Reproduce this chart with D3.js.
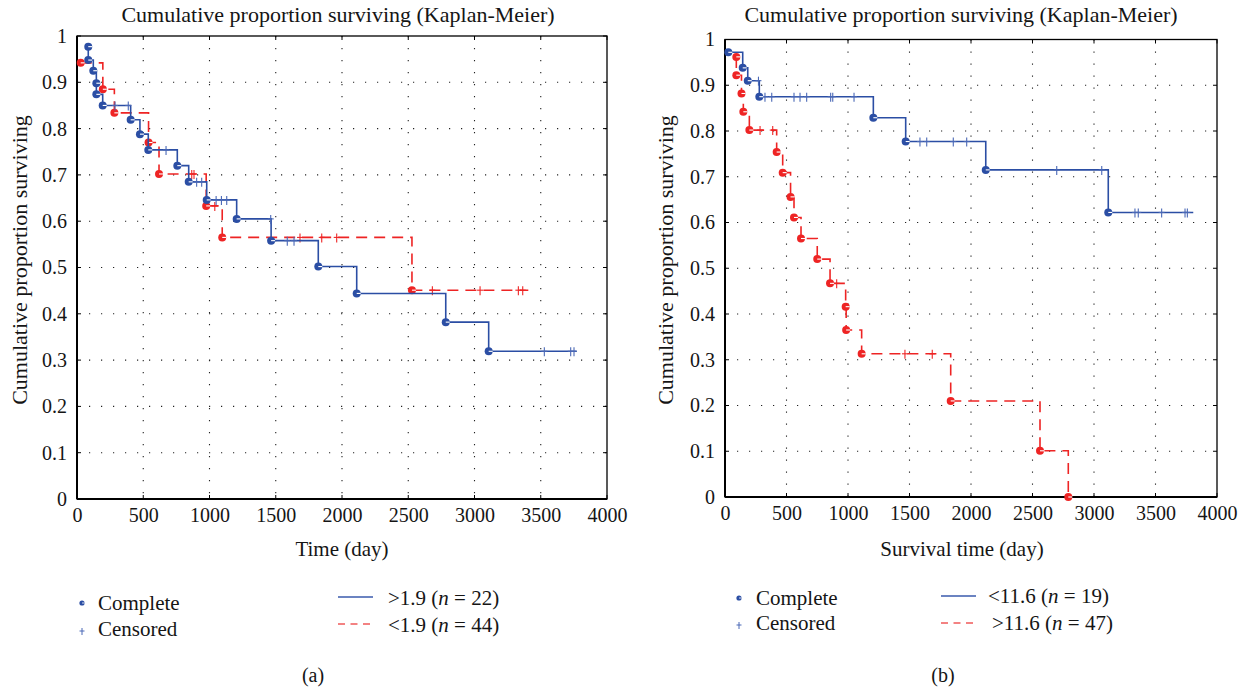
<!DOCTYPE html>
<html><head><meta charset="utf-8">
<script src="https://cdn.jsdelivr.net/npm/d3@7"></script>
<style>
body{margin:0;background:#fff}
svg{display:block}
svg text{font-family:"Liberation Serif",Tinos,"Times New Roman",Times,"DejaVu Serif",serif !important;fill:#151515}
</style>
</head><body>
<svg id="c" width="1248" height="689"></svg>
<script>
// ---------- tick labels ----------
const xTicks = [0, 500, 1000, 1500, 2000, 2500, 3000, 3500, 4000];
const yTicks = [0, 0.1, 0.2, 0.3, 0.4, 0.5, 0.6, 0.7, 0.8, 0.9, 1];

// ---------- panel (a) ----------
const aBlueT = [85, 85, 123, 146, 146, 194, 405, 475, 538, 757, 843, 979, 1205, 1465, 1821, 2111, 2783, 3107];
const aBlueS = [0.977, 0.948, 0.925, 0.898, 0.874, 0.850, 0.819, 0.788, 0.754, 0.720, 0.685, 0.646, 0.605, 0.558, 0.502, 0.444, 0.382, 0.319];
const aBlueCens = [287, 387, 672, 903, 941, 1050, 1090, 1130, 1462, 1587, 1638, 3527, 3726, 3751];
const aBlueEnd = 3771;

const aRedT = [28, 195, 282, 540, 619, 975, 1096, 2528];
const aRedS = [0.942, 0.885, 0.834, 0.770, 0.702, 0.633, 0.565, 0.451];
const aRedCens = [866, 883, 1040, 1683, 1847, 1960, 2682, 3042, 3331, 3364];
const aRedEnd = 3406;

// ---------- panel (b) ----------
const bBlueT = [27, 144, 185, 279, 1206, 1469, 2120, 3116];
const bBlueS = [0.972, 0.938, 0.910, 0.875, 0.829, 0.777, 0.715, 0.622];
const bBlueCens = [272, 325, 380, 561, 610, 664, 859, 876, 1049, 1585, 1640, 1856, 1965, 2697, 3063, 3333, 3360, 3550, 3740, 3759];
const bBlueEnd = 3807;

const bRedT = [92, 92, 134, 149, 198, 420, 469, 533, 561, 618, 750, 854, 981, 985, 1111, 1835, 2561, 2791];
const bRedS = [0.962, 0.922, 0.882, 0.842, 0.802, 0.754, 0.709, 0.656, 0.611, 0.565, 0.520, 0.467, 0.416, 0.365, 0.313, 0.210, 0.101, 0];
const bRedCens = [285, 388, 908, 1463, 1685];
const bRedEnd = 2791;

const titleText = "Cumulative proportion surviving (Kaplan-Meier)";
const yLabelText = "Cumulative proportion surviving";

const BLUE = "#2b4ea4", BLUE_C = "#4a68b6", RED = "#ee2424";

const svg = d3.select("#c");

function panel(cfg) {
  const x = d3.scaleLinear().domain([0, 4000]).range(cfg.xr);
  const y = d3.scaleLinear().domain([0, 1]).range(cfg.yr);
  const g = svg.append("g");

  g.selectAll(".vg").data(xTicks.slice(1, -1)).enter().append("line")
    .attr("x1", d => x(d)).attr("x2", d => x(d)).attr("y1", y(1)).attr("y2", y(0))
    .attr("stroke", "#222").attr("stroke-width", 1.1).attr("stroke-dasharray", "1.2 10.8");
  g.selectAll(".hg").data(yTicks.slice(1, -1)).enter().append("line")
    .attr("y1", d => y(d)).attr("y2", d => y(d)).attr("x1", x(0)).attr("x2", x(4000))
    .attr("stroke", "#222").attr("stroke-width", 1.1).attr("stroke-dasharray", "1.2 10.8");

  const xa = d3.axisBottom(x).tickValues(xTicks).tickSize(0).tickPadding(0).tickFormat(d3.format("d"));
  const xg = g.append("g").attr("transform", `translate(0,${y(0)})`).call(xa).attr("font-family", null);
  xg.select(".domain").remove();
  xg.selectAll("text").attr("font-size", 20).attr("dy", null).attr("y", 23).attr("fill", "#151515");

  const ya = d3.axisLeft(y).tickValues(yTicks).tickSize(0).tickPadding(10)
    .tickFormat(d => d === 0 ? "0" : d === 1 ? "1" : d3.format(".1f")(d));
  const yg = g.append("g").attr("transform", `translate(${x(0)},0)`).call(ya).attr("font-family", null);
  yg.select(".domain").remove();
  yg.selectAll("text").attr("font-size", 20).attr("fill", "#151515");

  const tl = 4;
  xTicks.forEach(t => {
    g.append("line").attr("x1", x(t)).attr("x2", x(t)).attr("y1", y(0)).attr("y2", y(0) - tl).attr("stroke", "#000");
    g.append("line").attr("x1", x(t)).attr("x2", x(t)).attr("y1", y(1)).attr("y2", y(1) + tl).attr("stroke", "#000");
  });
  yTicks.forEach(v => {
    g.append("line").attr("x1", x(0)).attr("x2", x(0) + tl).attr("y1", y(v)).attr("y2", y(v)).attr("stroke", "#000");
    g.append("line").attr("x1", x(4000)).attr("x2", x(4000) - tl).attr("y1", y(v)).attr("y2", y(v)).attr("stroke", "#000");
  });

  g.append("rect").attr("x", x(0)).attr("y", y(1)).attr("width", x(4000) - x(0)).attr("height", y(0) - y(1))
    .attr("fill", "none").attr("stroke", "#000").attr("stroke-width", 1.3);
  g.append("line").attr("x1", x(0)).attr("x2", x(0)).attr("y1", y(1)).attr("y2", y(0)).attr("stroke", "#000").attr("stroke-width", 2);
  g.append("line").attr("x1", x(0)).attr("x2", x(4000)).attr("y1", y(0)).attr("y2", y(0)).attr("stroke", "#000").attr("stroke-width", 2);

  const line = d3.line().x(d => x(d[0])).y(d => y(d[1])).curve(d3.curveStepAfter);
  function stepAt(T, S, t) { let s = S[0]; for (let i = 0; i < T.length; i++) if (T[i] <= t) s = S[i]; return s; }
  function curve(T, S, cens, end, color, ccolor, dash) {
    const pts = T.map((t, i) => [t, S[i]]);
    if (end > T[T.length - 1]) pts.push([end, S[S.length - 1]]);
    g.append("path").attr("d", line(pts)).attr("fill", "none").attr("stroke", color)
      .attr("stroke-width", 1.6).attr("stroke-dasharray", dash);
    cens.forEach(t => {
      const cx = x(t), cy = y(stepAt(T, S, t));
      g.append("line").attr("x1", cx).attr("x2", cx).attr("y1", cy - 4).attr("y2", cy + 5).attr("stroke", ccolor).attr("stroke-width", 1.1);
      g.append("line").attr("x1", cx - 3).attr("x2", cx + 3).attr("y1", cy).attr("y2", cy).attr("stroke", ccolor).attr("stroke-width", 1.1);
    });
    T.forEach((t, i) => {
      const cx = x(t), cy = y(S[i]);
      g.append("circle").attr("cx", cx).attr("cy", cy).attr("r", 4).attr("fill", color);
      g.append("line").attr("x1", cx).attr("x2", cx + 4).attr("y1", cy).attr("y2", cy).attr("stroke", "#fff").attr("stroke-width", 1.1);
    });
  }
  curve(cfg.rT, cfg.rS, cfg.rC, cfg.rE, RED, RED, "11 7");
  curve(cfg.bT, cfg.bS, cfg.bC, cfg.bE, BLUE, BLUE_C, null);

  g.append("text").attr("x", cfg.titleX).attr("y", 22).attr("text-anchor", "middle").attr("font-size", 22).text(titleText);
  g.append("text").attr("transform", `translate(${cfg.ylx},${cfg.yly}) rotate(-90)`).attr("text-anchor", "middle")
    .attr("font-size", 22).text(yLabelText);
  g.append("text").attr("x", cfg.xlx).attr("y", 556).attr("text-anchor", "middle").attr("font-size", 21).text(cfg.xLabel);

  const L = cfg.leg;
  g.append("circle").attr("cx", L.mx).attr("cy", L.my1).attr("r", 2.6).attr("fill", BLUE);
  g.append("line").attr("x1", L.mx).attr("x2", L.mx + 2.6).attr("y1", L.my1).attr("y2", L.my1).attr("stroke", "#fff").attr("stroke-width", 0.8);
  g.append("line").attr("x1", L.mx).attr("x2", L.mx).attr("y1", L.my2 - 3).attr("y2", L.my2 + 4).attr("stroke", BLUE_C).attr("stroke-width", 1);
  g.append("line").attr("x1", L.mx - 2.5).attr("x2", L.mx + 2.5).attr("y1", L.my2).attr("y2", L.my2).attr("stroke", BLUE_C).attr("stroke-width", 1);
  g.append("text").attr("x", L.tx).attr("y", L.ty1).attr("font-size", 21).text("Complete");
  g.append("text").attr("x", L.tx).attr("y", L.ty2).attr("font-size", 21).text("Censored");

  g.append("line").attr("x1", L.lx1).attr("x2", L.lx2).attr("y1", L.ly1).attr("y2", L.ly1).attr("stroke", "#3a5aac").attr("stroke-width", 1.4);
  g.append("line").attr("x1", L.lx1).attr("x2", L.lx2).attr("y1", L.ly2).attr("y2", L.ly2).attr("stroke", "#f05a5a").attr("stroke-width", 1.4).attr("stroke-dasharray", "7 5.5");
  function nText(xp, yp, pre, num) {
    const t = g.append("text").attr("x", xp).attr("y", yp).attr("font-size", 21);
    t.append("tspan").text(pre + " (");
    t.append("tspan").attr("font-style", "italic").text("n");
    t.append("tspan").text(" = " + num + ")");
  }
  nText(L.ltx1, L.lty1, cfg.lab1[0], cfg.lab1[1]);
  nText(L.ltx2, L.lty2, cfg.lab2[0], cfg.lab2[1]);

  g.append("text").attr("x", cfg.capX).attr("y", 682).attr("text-anchor", "middle").attr("font-size", 20).text(cfg.cap);
}

panel({
  xr: [77, 607], yr: [499, 36],
  bT: aBlueT, bS: aBlueS, bC: aBlueCens, bE: aBlueEnd,
  rT: aRedT, rS: aRedS, rC: aRedCens, rE: aRedEnd,
  titleX: 338, ylx: 27, yly: 260, xlx: 342, xLabel: "Time (day)",
  leg: { mx: 82, my1: 603, my2: 631, tx: 98, ty1: 610, ty2: 636,
         lx1: 338, lx2: 373, ly1: 597, ly2: 624, ltx1: 388, lty1: 605, ltx2: 388, lty2: 632 },
  lab1: [">1.9", "22"], lab2: ["<1.9", "44"],
  capX: 313, cap: "(a)"
});

panel({
  xr: [725, 1217], yr: [497, 39.5],
  bT: bBlueT, bS: bBlueS, bC: bBlueCens, bE: bBlueEnd,
  rT: bRedT, rS: bRedS, rC: bRedCens, rE: bRedEnd,
  titleX: 961, ylx: 673, yly: 260, xlx: 962, xLabel: "Survival time (day)",
  leg: { mx: 739, my1: 598, my2: 625, tx: 756, ty1: 605, ty2: 630,
         lx1: 941, lx2: 976, ly1: 596, ly2: 623, ltx1: 988, lty1: 603, ltx2: 992, lty2: 630 },
  lab1: ["<11.6", "19"], lab2: [">11.6", "47"],
  capX: 943, cap: "(b)"
});
</script>
</body></html>
